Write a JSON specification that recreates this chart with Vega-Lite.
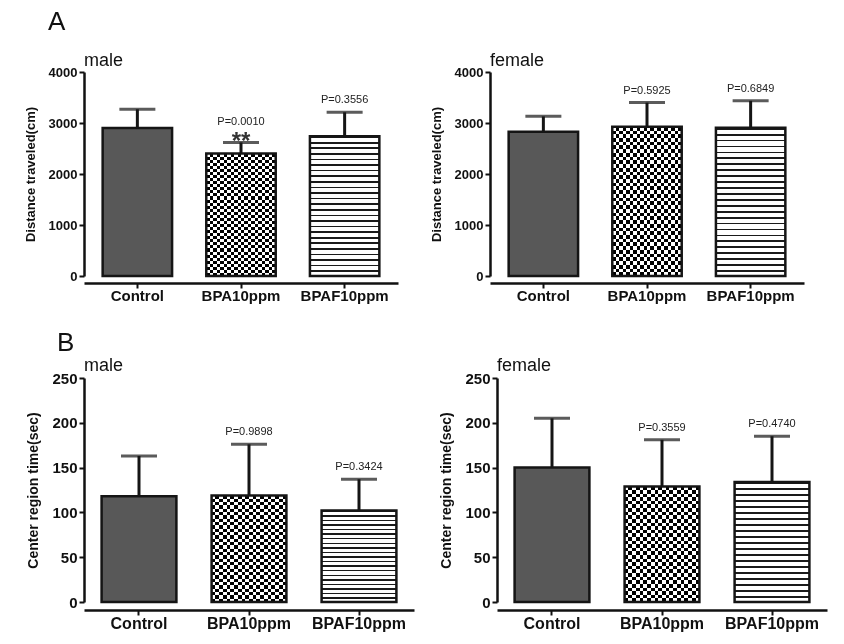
{
  "$schema": "https://vega.github.io/schema/vega-lite/v6.json",
  "background": "white",
  "padding": {"left": 24, "top": 9, "right": 5, "bottom": 5},
  "datasets": {
    "behaviour": [
      {"panel": "A", "sex": "male", "group": "Control", "mean": 2900, "upper": 3270, "p": "", "star": ""},
      {"panel": "A", "sex": "male", "group": "BPA10ppm", "mean": 2400, "upper": 2620, "p": "P=0.0010", "star": "**"},
      {"panel": "A", "sex": "male", "group": "BPAF10ppm", "mean": 2740, "upper": 3210, "p": "P=0.3556", "star": ""},
      {"panel": "A", "sex": "female", "group": "Control", "mean": 2830, "upper": 3130, "p": "", "star": ""},
      {"panel": "A", "sex": "female", "group": "BPA10ppm", "mean": 2925, "upper": 3400, "p": "P=0.5925", "star": ""},
      {"panel": "A", "sex": "female", "group": "BPAF10ppm", "mean": 2905, "upper": 3435, "p": "P=0.6849", "star": ""},
      {"panel": "B", "sex": "male", "group": "Control", "mean": 118, "upper": 163, "p": "", "star": ""},
      {"panel": "B", "sex": "male", "group": "BPA10ppm", "mean": 119, "upper": 176, "p": "P=0.9898", "star": ""},
      {"panel": "B", "sex": "male", "group": "BPAF10ppm", "mean": 102, "upper": 137, "p": "P=0.3424", "star": ""},
      {"panel": "B", "sex": "female", "group": "Control", "mean": 150, "upper": 205, "p": "", "star": ""},
      {"panel": "B", "sex": "female", "group": "BPA10ppm", "mean": 129, "upper": 181, "p": "P=0.3559", "star": ""},
      {"panel": "B", "sex": "female", "group": "BPAF10ppm", "mean": 134, "upper": 185, "p": "P=0.4740", "star": ""}
    ]
  },
  "data": {"name": "behaviour"},
  "spacing": 27,
  "align": "none",
  "vconcat": [
    {
      "transform": [{"filter": "datum.panel === 'A'"}],
      "title": {"text": "A", "anchor": "start", "dx": 24, "offset": 17},
      "facet": {"column": {"field": "sex", "type": "nominal", "sort": ["male", "female"], "header": {"title": null}}},
      "spacing": 32,
      "resolve": {"axis": {"y": "independent"}},
      "spec": {
        "width": 314,
        "height": 204,
        "encoding": {
          "x": {"field": "group", "type": "nominal", "sort": ["Control", "BPA10ppm", "BPAF10ppm"], "title": null,
                "scale": {"paddingInner": 0.33, "paddingOuter": 0.18}},
          "y": {"field": "mean", "type": "quantitative", "title": "Distance traveled(cm)",
                "scale": {"domain": [0, 4000], "nice": false},
                "axis": {"values": [0, 1000, 2000, 3000, 4000], "format": "d", "labelFontSize": 13, "titleFontSize": 13, "titlePadding": 11}}
        },
        "layer": [
          {"transform": [{"filter": "datum.group === 'Control'"}], "mark": {"type": "bar", "fill": "#585858"}},
          {"transform": [{"filter": "datum.group === 'BPA10ppm'"}],
           "mark": {"type": "bar", "fill": {"gradient": "linear", "x1": 0, "y1": 0, "x2": 0, "y2": 1, "stops": [
            {"offset":0,"color":"#000"},{"offset":0.025,"color":"#000"},{"offset":0.025,"color":"#fff"},{"offset":0.05,"color":"#fff"},
            {"offset":0.05,"color":"#000"},{"offset":0.075,"color":"#000"},{"offset":0.075,"color":"#fff"},{"offset":0.1,"color":"#fff"},
            {"offset":0.1,"color":"#000"},{"offset":0.125,"color":"#000"},{"offset":0.125,"color":"#fff"},{"offset":0.15,"color":"#fff"},
            {"offset":0.15,"color":"#000"},{"offset":0.175,"color":"#000"},{"offset":0.175,"color":"#fff"},{"offset":0.2,"color":"#fff"},
            {"offset":0.2,"color":"#000"},{"offset":0.225,"color":"#000"},{"offset":0.225,"color":"#fff"},{"offset":0.25,"color":"#fff"},
            {"offset":0.25,"color":"#000"},{"offset":0.275,"color":"#000"},{"offset":0.275,"color":"#fff"},{"offset":0.3,"color":"#fff"},
            {"offset":0.3,"color":"#000"},{"offset":0.325,"color":"#000"},{"offset":0.325,"color":"#fff"},{"offset":0.35,"color":"#fff"},
            {"offset":0.35,"color":"#000"},{"offset":0.375,"color":"#000"},{"offset":0.375,"color":"#fff"},{"offset":0.4,"color":"#fff"},
            {"offset":0.4,"color":"#000"},{"offset":0.425,"color":"#000"},{"offset":0.425,"color":"#fff"},{"offset":0.45,"color":"#fff"},
            {"offset":0.45,"color":"#000"},{"offset":0.475,"color":"#000"},{"offset":0.475,"color":"#fff"},{"offset":0.5,"color":"#fff"},
            {"offset":0.5,"color":"#000"},{"offset":0.525,"color":"#000"},{"offset":0.525,"color":"#fff"},{"offset":0.55,"color":"#fff"},
            {"offset":0.55,"color":"#000"},{"offset":0.575,"color":"#000"},{"offset":0.575,"color":"#fff"},{"offset":0.6,"color":"#fff"},
            {"offset":0.6,"color":"#000"},{"offset":0.625,"color":"#000"},{"offset":0.625,"color":"#fff"},{"offset":0.65,"color":"#fff"},
            {"offset":0.65,"color":"#000"},{"offset":0.675,"color":"#000"},{"offset":0.675,"color":"#fff"},{"offset":0.7,"color":"#fff"},
            {"offset":0.7,"color":"#000"},{"offset":0.725,"color":"#000"},{"offset":0.725,"color":"#fff"},{"offset":0.75,"color":"#fff"},
            {"offset":0.75,"color":"#000"},{"offset":0.775,"color":"#000"},{"offset":0.775,"color":"#fff"},{"offset":0.8,"color":"#fff"},
            {"offset":0.8,"color":"#000"},{"offset":0.825,"color":"#000"},{"offset":0.825,"color":"#fff"},{"offset":0.85,"color":"#fff"},
            {"offset":0.85,"color":"#000"},{"offset":0.875,"color":"#000"},{"offset":0.875,"color":"#fff"},{"offset":0.9,"color":"#fff"},
            {"offset":0.9,"color":"#000"},{"offset":0.925,"color":"#000"},{"offset":0.925,"color":"#fff"},{"offset":0.95,"color":"#fff"},
            {"offset":0.95,"color":"#000"},{"offset":0.975,"color":"#000"},{"offset":0.975,"color":"#fff"},{"offset":1,"color":"#fff"}]}}},
          {"transform": [{"filter": "datum.group === 'BPA10ppm'"}],
           "mark": {"type": "bar", "blend": "difference", "fill": {"gradient": "linear", "x1": 0, "y1": 0, "x2": 1, "y2": 0, "stops": [
            {"offset":0,"color":"#fff"},{"offset":0.05,"color":"#fff"},{"offset":0.05,"color":"#000"},{"offset":0.1,"color":"#000"},
            {"offset":0.1,"color":"#fff"},{"offset":0.15,"color":"#fff"},{"offset":0.15,"color":"#000"},{"offset":0.2,"color":"#000"},
            {"offset":0.2,"color":"#fff"},{"offset":0.25,"color":"#fff"},{"offset":0.25,"color":"#000"},{"offset":0.3,"color":"#000"},
            {"offset":0.3,"color":"#fff"},{"offset":0.35,"color":"#fff"},{"offset":0.35,"color":"#000"},{"offset":0.4,"color":"#000"},
            {"offset":0.4,"color":"#fff"},{"offset":0.45,"color":"#fff"},{"offset":0.45,"color":"#000"},{"offset":0.5,"color":"#000"},
            {"offset":0.5,"color":"#fff"},{"offset":0.55,"color":"#fff"},{"offset":0.55,"color":"#000"},{"offset":0.6,"color":"#000"},
            {"offset":0.6,"color":"#fff"},{"offset":0.65,"color":"#fff"},{"offset":0.65,"color":"#000"},{"offset":0.7,"color":"#000"},
            {"offset":0.7,"color":"#fff"},{"offset":0.75,"color":"#fff"},{"offset":0.75,"color":"#000"},{"offset":0.8,"color":"#000"},
            {"offset":0.8,"color":"#fff"},{"offset":0.85,"color":"#fff"},{"offset":0.85,"color":"#000"},{"offset":0.9,"color":"#000"},
            {"offset":0.9,"color":"#fff"},{"offset":0.95,"color":"#fff"},{"offset":0.95,"color":"#000"},{"offset":1,"color":"#000"}]}}},
          {"transform": [{"filter": "datum.group === 'BPAF10ppm'"}],
           "mark": {"type": "bar", "fill": {"gradient": "linear", "x1": 0, "y1": 0, "x2": 0, "y2": 1, "stops": [
            {"offset":0,"color":"#1a1a1a"},{"offset":0.012,"color":"#1a1a1a"},{"offset":0.012,"color":"#fff"},{"offset":0.04,"color":"#fff"},
            {"offset":0.04,"color":"#1a1a1a"},{"offset":0.052,"color":"#1a1a1a"},{"offset":0.052,"color":"#fff"},{"offset":0.08,"color":"#fff"},
            {"offset":0.08,"color":"#1a1a1a"},{"offset":0.092,"color":"#1a1a1a"},{"offset":0.092,"color":"#fff"},{"offset":0.12,"color":"#fff"},
            {"offset":0.12,"color":"#1a1a1a"},{"offset":0.132,"color":"#1a1a1a"},{"offset":0.132,"color":"#fff"},{"offset":0.16,"color":"#fff"},
            {"offset":0.16,"color":"#1a1a1a"},{"offset":0.172,"color":"#1a1a1a"},{"offset":0.172,"color":"#fff"},{"offset":0.2,"color":"#fff"},
            {"offset":0.2,"color":"#1a1a1a"},{"offset":0.212,"color":"#1a1a1a"},{"offset":0.212,"color":"#fff"},{"offset":0.24,"color":"#fff"},
            {"offset":0.24,"color":"#1a1a1a"},{"offset":0.252,"color":"#1a1a1a"},{"offset":0.252,"color":"#fff"},{"offset":0.28,"color":"#fff"},
            {"offset":0.28,"color":"#1a1a1a"},{"offset":0.292,"color":"#1a1a1a"},{"offset":0.292,"color":"#fff"},{"offset":0.32,"color":"#fff"},
            {"offset":0.32,"color":"#1a1a1a"},{"offset":0.332,"color":"#1a1a1a"},{"offset":0.332,"color":"#fff"},{"offset":0.36,"color":"#fff"},
            {"offset":0.36,"color":"#1a1a1a"},{"offset":0.372,"color":"#1a1a1a"},{"offset":0.372,"color":"#fff"},{"offset":0.4,"color":"#fff"},
            {"offset":0.4,"color":"#1a1a1a"},{"offset":0.412,"color":"#1a1a1a"},{"offset":0.412,"color":"#fff"},{"offset":0.44,"color":"#fff"},
            {"offset":0.44,"color":"#1a1a1a"},{"offset":0.452,"color":"#1a1a1a"},{"offset":0.452,"color":"#fff"},{"offset":0.48,"color":"#fff"},
            {"offset":0.48,"color":"#1a1a1a"},{"offset":0.492,"color":"#1a1a1a"},{"offset":0.492,"color":"#fff"},{"offset":0.52,"color":"#fff"},
            {"offset":0.52,"color":"#1a1a1a"},{"offset":0.532,"color":"#1a1a1a"},{"offset":0.532,"color":"#fff"},{"offset":0.56,"color":"#fff"},
            {"offset":0.56,"color":"#1a1a1a"},{"offset":0.572,"color":"#1a1a1a"},{"offset":0.572,"color":"#fff"},{"offset":0.6,"color":"#fff"},
            {"offset":0.6,"color":"#1a1a1a"},{"offset":0.612,"color":"#1a1a1a"},{"offset":0.612,"color":"#fff"},{"offset":0.64,"color":"#fff"},
            {"offset":0.64,"color":"#1a1a1a"},{"offset":0.652,"color":"#1a1a1a"},{"offset":0.652,"color":"#fff"},{"offset":0.68,"color":"#fff"},
            {"offset":0.68,"color":"#1a1a1a"},{"offset":0.692,"color":"#1a1a1a"},{"offset":0.692,"color":"#fff"},{"offset":0.72,"color":"#fff"},
            {"offset":0.72,"color":"#1a1a1a"},{"offset":0.732,"color":"#1a1a1a"},{"offset":0.732,"color":"#fff"},{"offset":0.76,"color":"#fff"},
            {"offset":0.76,"color":"#1a1a1a"},{"offset":0.772,"color":"#1a1a1a"},{"offset":0.772,"color":"#fff"},{"offset":0.8,"color":"#fff"},
            {"offset":0.8,"color":"#1a1a1a"},{"offset":0.812,"color":"#1a1a1a"},{"offset":0.812,"color":"#fff"},{"offset":0.84,"color":"#fff"},
            {"offset":0.84,"color":"#1a1a1a"},{"offset":0.852,"color":"#1a1a1a"},{"offset":0.852,"color":"#fff"},{"offset":0.88,"color":"#fff"},
            {"offset":0.88,"color":"#1a1a1a"},{"offset":0.892,"color":"#1a1a1a"},{"offset":0.892,"color":"#fff"},{"offset":0.92,"color":"#fff"},
            {"offset":0.92,"color":"#1a1a1a"},{"offset":0.932,"color":"#1a1a1a"},{"offset":0.932,"color":"#fff"},{"offset":0.96,"color":"#fff"},
            {"offset":0.96,"color":"#1a1a1a"},{"offset":0.972,"color":"#1a1a1a"},{"offset":0.972,"color":"#fff"},{"offset":1,"color":"#fff"}]}}},
          {"mark": {"type": "bar", "fillOpacity": 0, "stroke": "#151515", "strokeWidth": 2.5}},
          {"mark": {"type": "rule", "color": "#151515", "strokeWidth": 3},
           "encoding": {"y2": {"field": "upper"}}},
          {"mark": {"type": "tick", "color": "#151515", "size": 36, "thickness": 3},
           "encoding": {"y": {"field": "upper", "type": "quantitative", "title": "Distance traveled(cm)"}}},
          {"transform": [{"filter": "datum.p !== '' && datum.star === ''"}],
           "mark": {"type": "text", "fontSize": 11, "dy": -12, "color": "#222"},
           "encoding": {"y": {"field": "upper", "type": "quantitative", "title": "Distance traveled(cm)"}, "text": {"field": "p"}}},
          {"transform": [{"filter": "datum.star !== ''"}],
           "mark": {"type": "text", "fontSize": 11, "dy": -20, "color": "#222"},
           "encoding": {"y": {"field": "upper", "type": "quantitative", "title": "Distance traveled(cm)"}, "text": {"field": "p"}}},
          {"transform": [{"filter": "datum.star !== ''"}],
           "mark": {"type": "text", "fontSize": 24, "fontWeight": "bold", "baseline": "alphabetic", "dy": 7, "color": "#333"},
           "encoding": {"y": {"field": "upper", "type": "quantitative", "title": "Distance traveled(cm)"}, "text": {"field": "star"}}}
        ]
      }
    },
    {
      "transform": [{"filter": "datum.panel === 'B'"}],
      "title": {"text": "B", "anchor": "start", "dx": 30, "offset": 1},
      "facet": {"column": {"field": "sex", "type": "nominal", "sort": ["male", "female"], "header": {"title": null}}},
      "spacing": 25,
      "resolve": {"axis": {"y": "independent"}},
      "spec": {
        "width": 330,
        "height": 224,
        "encoding": {
          "x": {"field": "group", "type": "nominal", "sort": ["Control", "BPA10ppm", "BPAF10ppm"], "title": null,
                "scale": {"paddingInner": 0.32, "paddingOuter": 0.16}, "axis": {"labelFontSize": 16}},
          "y": {"field": "mean", "type": "quantitative", "title": "Center region time(sec)",
                "scale": {"domain": [0, 250], "nice": false},
                "axis": {"values": [0, 50, 100, 150, 200, 250], "format": "d", "labelFontSize": 15, "titleFontSize": 14, "titlePadding": 11}}
        },
        "layer": [
          {"transform": [{"filter": "datum.group === 'Control'"}], "mark": {"type": "bar", "fill": "#585858"}},
          {"transform": [{"filter": "datum.group === 'BPA10ppm'"}],
           "mark": {"type": "bar", "fill": {"gradient": "linear", "x1": 0, "y1": 0, "x2": 0, "y2": 1, "stops": [
            {"offset":0,"color":"#000"},{"offset":0.03125,"color":"#000"},{"offset":0.03125,"color":"#fff"},{"offset":0.0625,"color":"#fff"},
            {"offset":0.0625,"color":"#000"},{"offset":0.09375,"color":"#000"},{"offset":0.09375,"color":"#fff"},{"offset":0.125,"color":"#fff"},
            {"offset":0.125,"color":"#000"},{"offset":0.15625,"color":"#000"},{"offset":0.15625,"color":"#fff"},{"offset":0.1875,"color":"#fff"},
            {"offset":0.1875,"color":"#000"},{"offset":0.21875,"color":"#000"},{"offset":0.21875,"color":"#fff"},{"offset":0.25,"color":"#fff"},
            {"offset":0.25,"color":"#000"},{"offset":0.28125,"color":"#000"},{"offset":0.28125,"color":"#fff"},{"offset":0.3125,"color":"#fff"},
            {"offset":0.3125,"color":"#000"},{"offset":0.34375,"color":"#000"},{"offset":0.34375,"color":"#fff"},{"offset":0.375,"color":"#fff"},
            {"offset":0.375,"color":"#000"},{"offset":0.40625,"color":"#000"},{"offset":0.40625,"color":"#fff"},{"offset":0.4375,"color":"#fff"},
            {"offset":0.4375,"color":"#000"},{"offset":0.46875,"color":"#000"},{"offset":0.46875,"color":"#fff"},{"offset":0.5,"color":"#fff"},
            {"offset":0.5,"color":"#000"},{"offset":0.53125,"color":"#000"},{"offset":0.53125,"color":"#fff"},{"offset":0.5625,"color":"#fff"},
            {"offset":0.5625,"color":"#000"},{"offset":0.59375,"color":"#000"},{"offset":0.59375,"color":"#fff"},{"offset":0.625,"color":"#fff"},
            {"offset":0.625,"color":"#000"},{"offset":0.65625,"color":"#000"},{"offset":0.65625,"color":"#fff"},{"offset":0.6875,"color":"#fff"},
            {"offset":0.6875,"color":"#000"},{"offset":0.71875,"color":"#000"},{"offset":0.71875,"color":"#fff"},{"offset":0.75,"color":"#fff"},
            {"offset":0.75,"color":"#000"},{"offset":0.78125,"color":"#000"},{"offset":0.78125,"color":"#fff"},{"offset":0.8125,"color":"#fff"},
            {"offset":0.8125,"color":"#000"},{"offset":0.84375,"color":"#000"},{"offset":0.84375,"color":"#fff"},{"offset":0.875,"color":"#fff"},
            {"offset":0.875,"color":"#000"},{"offset":0.90625,"color":"#000"},{"offset":0.90625,"color":"#fff"},{"offset":0.9375,"color":"#fff"},
            {"offset":0.9375,"color":"#000"},{"offset":0.96875,"color":"#000"},{"offset":0.96875,"color":"#fff"},{"offset":1,"color":"#fff"}]}}},
          {"transform": [{"filter": "datum.group === 'BPA10ppm'"}],
           "mark": {"type": "bar", "blend": "difference", "fill": {"gradient": "linear", "x1": 0, "y1": 0, "x2": 1, "y2": 0, "stops": [
            {"offset":0,"color":"#fff"},{"offset":0.05,"color":"#fff"},{"offset":0.05,"color":"#000"},{"offset":0.1,"color":"#000"},
            {"offset":0.1,"color":"#fff"},{"offset":0.15,"color":"#fff"},{"offset":0.15,"color":"#000"},{"offset":0.2,"color":"#000"},
            {"offset":0.2,"color":"#fff"},{"offset":0.25,"color":"#fff"},{"offset":0.25,"color":"#000"},{"offset":0.3,"color":"#000"},
            {"offset":0.3,"color":"#fff"},{"offset":0.35,"color":"#fff"},{"offset":0.35,"color":"#000"},{"offset":0.4,"color":"#000"},
            {"offset":0.4,"color":"#fff"},{"offset":0.45,"color":"#fff"},{"offset":0.45,"color":"#000"},{"offset":0.5,"color":"#000"},
            {"offset":0.5,"color":"#fff"},{"offset":0.55,"color":"#fff"},{"offset":0.55,"color":"#000"},{"offset":0.6,"color":"#000"},
            {"offset":0.6,"color":"#fff"},{"offset":0.65,"color":"#fff"},{"offset":0.65,"color":"#000"},{"offset":0.7,"color":"#000"},
            {"offset":0.7,"color":"#fff"},{"offset":0.75,"color":"#fff"},{"offset":0.75,"color":"#000"},{"offset":0.8,"color":"#000"},
            {"offset":0.8,"color":"#fff"},{"offset":0.85,"color":"#fff"},{"offset":0.85,"color":"#000"},{"offset":0.9,"color":"#000"},
            {"offset":0.9,"color":"#fff"},{"offset":0.95,"color":"#fff"},{"offset":0.95,"color":"#000"},{"offset":1,"color":"#000"}]}}},
          {"transform": [{"filter": "datum.group === 'BPAF10ppm'"}],
           "mark": {"type": "bar", "fill": {"gradient": "linear", "x1": 0, "y1": 0, "x2": 0, "y2": 1, "stops": [
            {"offset":0,"color":"#1a1a1a"},{"offset":0.015,"color":"#1a1a1a"},{"offset":0.015,"color":"#fff"},{"offset":0.05,"color":"#fff"},
            {"offset":0.05,"color":"#1a1a1a"},{"offset":0.065,"color":"#1a1a1a"},{"offset":0.065,"color":"#fff"},{"offset":0.1,"color":"#fff"},
            {"offset":0.1,"color":"#1a1a1a"},{"offset":0.115,"color":"#1a1a1a"},{"offset":0.115,"color":"#fff"},{"offset":0.15,"color":"#fff"},
            {"offset":0.15,"color":"#1a1a1a"},{"offset":0.165,"color":"#1a1a1a"},{"offset":0.165,"color":"#fff"},{"offset":0.2,"color":"#fff"},
            {"offset":0.2,"color":"#1a1a1a"},{"offset":0.215,"color":"#1a1a1a"},{"offset":0.215,"color":"#fff"},{"offset":0.25,"color":"#fff"},
            {"offset":0.25,"color":"#1a1a1a"},{"offset":0.265,"color":"#1a1a1a"},{"offset":0.265,"color":"#fff"},{"offset":0.3,"color":"#fff"},
            {"offset":0.3,"color":"#1a1a1a"},{"offset":0.315,"color":"#1a1a1a"},{"offset":0.315,"color":"#fff"},{"offset":0.35,"color":"#fff"},
            {"offset":0.35,"color":"#1a1a1a"},{"offset":0.365,"color":"#1a1a1a"},{"offset":0.365,"color":"#fff"},{"offset":0.4,"color":"#fff"},
            {"offset":0.4,"color":"#1a1a1a"},{"offset":0.415,"color":"#1a1a1a"},{"offset":0.415,"color":"#fff"},{"offset":0.45,"color":"#fff"},
            {"offset":0.45,"color":"#1a1a1a"},{"offset":0.465,"color":"#1a1a1a"},{"offset":0.465,"color":"#fff"},{"offset":0.5,"color":"#fff"},
            {"offset":0.5,"color":"#1a1a1a"},{"offset":0.515,"color":"#1a1a1a"},{"offset":0.515,"color":"#fff"},{"offset":0.55,"color":"#fff"},
            {"offset":0.55,"color":"#1a1a1a"},{"offset":0.565,"color":"#1a1a1a"},{"offset":0.565,"color":"#fff"},{"offset":0.6,"color":"#fff"},
            {"offset":0.6,"color":"#1a1a1a"},{"offset":0.615,"color":"#1a1a1a"},{"offset":0.615,"color":"#fff"},{"offset":0.65,"color":"#fff"},
            {"offset":0.65,"color":"#1a1a1a"},{"offset":0.665,"color":"#1a1a1a"},{"offset":0.665,"color":"#fff"},{"offset":0.7,"color":"#fff"},
            {"offset":0.7,"color":"#1a1a1a"},{"offset":0.715,"color":"#1a1a1a"},{"offset":0.715,"color":"#fff"},{"offset":0.75,"color":"#fff"},
            {"offset":0.75,"color":"#1a1a1a"},{"offset":0.765,"color":"#1a1a1a"},{"offset":0.765,"color":"#fff"},{"offset":0.8,"color":"#fff"},
            {"offset":0.8,"color":"#1a1a1a"},{"offset":0.815,"color":"#1a1a1a"},{"offset":0.815,"color":"#fff"},{"offset":0.85,"color":"#fff"},
            {"offset":0.85,"color":"#1a1a1a"},{"offset":0.865,"color":"#1a1a1a"},{"offset":0.865,"color":"#fff"},{"offset":0.9,"color":"#fff"},
            {"offset":0.9,"color":"#1a1a1a"},{"offset":0.915,"color":"#1a1a1a"},{"offset":0.915,"color":"#fff"},{"offset":0.95,"color":"#fff"},
            {"offset":0.95,"color":"#1a1a1a"},{"offset":0.965,"color":"#1a1a1a"},{"offset":0.965,"color":"#fff"},{"offset":1,"color":"#fff"}]}}},
          {"mark": {"type": "bar", "fillOpacity": 0, "stroke": "#151515", "strokeWidth": 2.5}},
          {"mark": {"type": "rule", "color": "#151515", "strokeWidth": 3},
           "encoding": {"y2": {"field": "upper"}}},
          {"mark": {"type": "tick", "color": "#151515", "size": 36, "thickness": 3},
           "encoding": {"y": {"field": "upper", "type": "quantitative", "title": "Center region time(sec)"}}},
          {"transform": [{"filter": "datum.p !== ''"}],
           "mark": {"type": "text", "fontSize": 11, "dy": -12, "color": "#222"},
           "encoding": {"y": {"field": "upper", "type": "quantitative", "title": "Center region time(sec)"}, "text": {"field": "p"}}}
        ]
      }
    }
  ],
  "config": {
    "font": "Liberation Sans",
    "view": {"stroke": null},
    "title": {"font": "Liberation Sans", "fontSize": 26, "fontWeight": "normal", "color": "#111"},
    "header": {"labelFont": "Liberation Sans", "labelFontSize": 18, "labelColor": "#111", "labelAnchor": "start", "labelAlign": "left", "labelPadding": -4},
    "axis": {"grid": false, "domainColor": "#111", "domainWidth": 2.5, "tickColor": "#111", "tickWidth": 2, "tickSize": 5,
             "labelFont": "Liberation Sans", "labelFontWeight": "bold", "labelColor": "#111",
             "titleFont": "Liberation Sans", "titleFontWeight": "bold", "titleColor": "#111"},
    "axisY": {"labelPadding": 2},
    "axisX": {"labelFontSize": 15, "labelAngle": 0, "labelPadding": 0}
  }
}
